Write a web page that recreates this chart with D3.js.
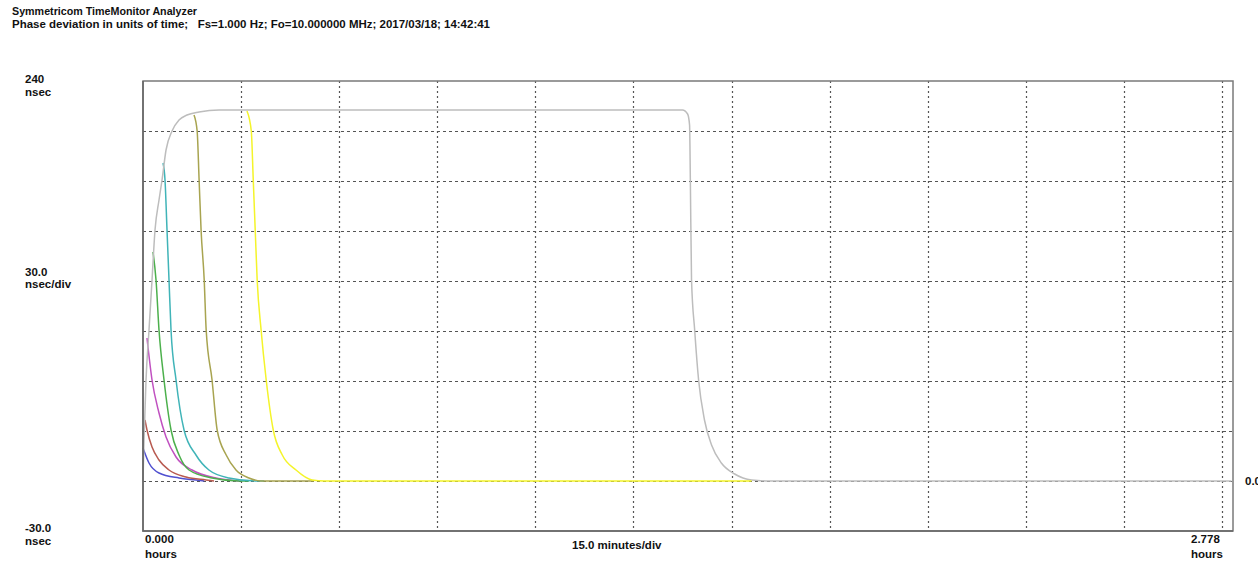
<!DOCTYPE html>
<head>
  <meta charset='utf-8'>
  <style>
      body { margin: 0; background: white; overflow: hidden; }
      text {
        font-family: 'Liberation Sans', Arial, sans-serif;
        font-weight: bold;
        font-size: 11.5px;
        fill: #111;
        white-space: pre;
      }
      .grid line {
        stroke: #555;
        stroke-width: 1.2px;
      }
      .grid.x line { stroke-dasharray: 2,3; }
      .grid.y line { stroke-dasharray: 3,3; }
      .frame {
        fill: none;
        stroke: #7a7a7a;
        stroke-width: 1.5px;
      }
      .frame-dark {
        fill: none;
        stroke: #666;
        stroke-width: 1.5px;
      }
      .line {
        fill: none;
        stroke-width: 1.5px;
      }
  </style>
</head>
<body>
<script src='https://d3js.org/d3.v7.min.js'></script>
<script>
    // [hours, nsec]
    var blue = [[0, 19.8], [0.0153, 10.8], [0.0408, 4.8], [0.0918, 1.8], [0.135, 0.6], [0.156, 0]],
        brown = [[0.0051, 36.6], [0.0102, 30.6], [0.023, 20.4], [0.0408, 12.6], [0.0663, 6.6],
                 [0.1097, 2.4], [0.1607, 0.6], [0.181, 0]],
        magenta = [[0.0102, 85.8], [0.023, 60.6], [0.0408, 40.8], [0.0587, 26.4], [0.0842, 14.4],
                   [0.125, 6.6], [0.186, 1.8], [0.219, 0.6], [0.245, 0]],
        green = [[0.0255, 137.4], [0.0332, 120.6], [0.0408, 90.6], [0.0536, 60.6], [0.0714, 30.6],
                 [0.0918, 15.6], [0.1173, 6.6], [0.176, 1.8], [0.245, 0], [0.27, 0]],
        cyan = [[0.051, 190.8], [0.0561, 180.6], [0.0612, 150.6], [0.0663, 120.6], [0.0714, 90.6],
                [0.0842, 60.6], [0.1046, 30.6], [0.135, 15.6], [0.168, 6.6], [0.219, 1.8],
                [0.288, 0], [0.309, 0]],
        olive = [[0.130, 219.6], [0.138, 210], [0.143, 180.6], [0.148, 150.6], [0.156, 120.6],
                 [0.161, 90.6], [0.176, 60.6], [0.189, 30.6], [0.212, 15.6], [0.237, 6.6],
                 [0.270, 1.8], [0.301, 0], [0.436, 0]],
        gray = [[0, 0], [0.0026, 24.6], [0.0077, 60.6], [0.0153, 90.6], [0.023, 120.6], [0.0306, 150.6],
                [0.0408, 168.6], [0.0485, 180.6], [0.0587, 198.6], [0.074, 210], [0.0918, 216.6],
                [0.1122, 219.6], [0.1429, 221.4], [0.1939, 222.6], [1.375, 222.6], [1.388, 220.2],
                [1.393, 213.6], [1.395, 180.6], [1.398, 120.6], [1.406, 90.6], [1.416, 60.6],
                [1.431, 36.6], [1.449, 21.6], [1.474, 10.8], [1.508, 4.2], [1.551, 0.6],
                [1.597, 0], [2.774, 0]],
        yellow = [[0.265, 222], [0.276, 210], [0.281, 180.6], [0.286, 150.6], [0.291, 120.6],
                  [0.301, 90.6], [0.314, 60.6], [0.332, 30.6], [0.355, 15.6], [0.39, 6.6],
                  [0.431, 0.6], [0.462, 0], [1.551, 0]];

    var seriesList = [blue, brown, magenta, green, cyan, olive, gray, yellow],
        seriesColors = ['#5050d0', '#b85a50', '#c050c0', '#4cb04c', '#40b4b8', '#a8a450', '#bdbdbd', '#f4f42a'];

    var titleLines = ['Symmetricom TimeMonitor Analyzer',
                      'Phase deviation in units of time;   Fs=1.000 Hz; Fo=10.000000 MHz; 2017/03/18; 14:42:41'],
        xDomain = [0, 2.778],
        yDomain = [-30, 240],
        xGridTicks = d3.range(1, 12).map(function(d) { return d * 0.25; }),
        yGridTicks = d3.range(0, 240, 30);

    var W = 1258, H = 562,
        margin = {top: 81, right: 25, bottom: 31, left: 143};

    var xScale = d3.scaleLinear().domain(xDomain).range([margin.left, W - margin.right]),
        yScale = d3.scaleLinear().domain(yDomain).range([H - margin.bottom, margin.top]),
        line = d3.line()
            .x(function(d) { return xScale(d[0]); })
            .y(function(d) { return yScale(d[1]); })
            .curve(d3.curveMonotoneX);

    var svg = d3.select('body').append('svg')
        .attr('width', W)
        .attr('height', H);

    // title
    svg.selectAll('.title')
        .data(titleLines)
        .enter().append('text')
        .attr('class', 'title')
        .attr('x', 12)
        .attr('y', function(d, i) { return 15 + i * 13; })
        .attr('textLength', function(d, i) { return i ? 478 : 185; })
        .attr('lengthAdjust', 'spacingAndGlyphs')
        .text(function(d) { return d; });

    // grid
    svg.append('g')
        .attr('class', 'grid x')
        .selectAll('line')
        .data(xGridTicks)
        .enter().append('line')
        .attr('x1', function(d) { return Math.round(xScale(d)) + 0.5; })
        .attr('x2', function(d) { return Math.round(xScale(d)) + 0.5; })
        .attr('y1', yScale.range()[1])
        .attr('y2', yScale.range()[0]);

    svg.append('g')
        .attr('class', 'grid y')
        .selectAll('line')
        .data(yGridTicks)
        .enter().append('line')
        .attr('x1', xScale.range()[0])
        .attr('x2', xScale.range()[1])
        .attr('y1', function(d) { return Math.round(yScale(d)) + 0.5; })
        .attr('y2', function(d) { return Math.round(yScale(d)) + 0.5; });

    // series
    svg.selectAll('.line')
        .data(seriesList)
        .enter().append('path')
        .attr('class', 'line')
        .attr('stroke', function(d, i) { return seriesColors[i]; })
        .attr('d', line);

    // frame
    svg.append('rect')
        .attr('class', 'frame')
        .attr('x', xScale.range()[0])
        .attr('y', yScale.range()[1])
        .attr('width', xScale.range()[1] - xScale.range()[0])
        .attr('height', yScale.range()[0] - yScale.range()[1]);
    svg.append('path')
        .attr('class', 'frame-dark')
        .attr('d', 'M' + xScale.range()[0] + ',' + yScale.range()[1] +
                   'V' + yScale.range()[0] + 'H' + xScale.range()[1]);

    // axis labels
    var labels = [
        {t: '240', x: 25, y: 83},
        {t: 'nsec', x: 25, y: 96},
        {t: '30.0', x: 25, y: 276},
        {t: 'nsec/div', x: 25, y: 288},
        {t: '-30.0', x: 25, y: 532},
        {t: 'nsec', x: 25, y: 545},
        {t: d3.format('.3f')(xDomain[0]), x: xScale(xDomain[0]) + 2, y: 543},
        {t: 'hours', x: xScale(xDomain[0]) + 2, y: 558},
        {t: '15.0 minutes/div', x: 572, y: 549},
        {t: d3.format('.3f')(xDomain[1]), x: xScale(xDomain[1]) - 42, y: 543},
        {t: 'hours', x: xScale(xDomain[1]) - 42, y: 558},
        {t: '0.000', x: 1245, y: yScale(0) + 4}
    ];
    svg.selectAll('.lbl')
        .data(labels)
        .enter().append('text')
        .attr('class', 'lbl')
        .attr('x', function(d) { return d.x; })
        .attr('y', function(d) { return d.y; })
        .text(function(d) { return d.t; });
</script>
</body>
